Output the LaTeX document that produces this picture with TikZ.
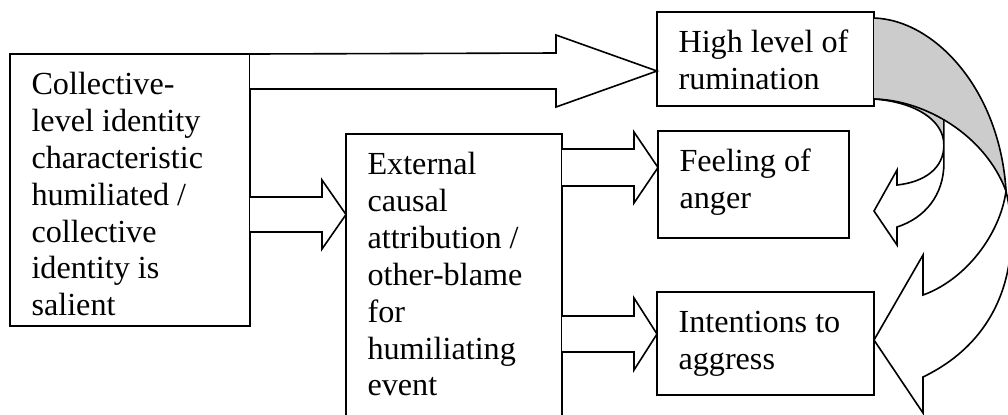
\documentclass[tikz,border=0pt]{standalone}
\usepackage{fontspec}
\setmainfont{Liberation Serif}
\usetikzlibrary{fit}
\definecolor{bandgray}{RGB}{204,204,204}
\tikzset{
  box/.style={draw=black, line width=0.6pt, inner sep=0pt, outer sep=0pt},
  label/.style={anchor=base west, inner sep=0pt, font=\fontsize{12}{13.8}\selectfont},
  blockarrow/.style={draw=black, line width=0.6pt, fill=white, line join=miter},
  curveline/.style={draw=black, line width=0.6pt}
}
\newcommand{\lines}[1]{\parbox[t]{110pt}{\raggedright #1}}
\begin{document}
\begin{tikzpicture}[x=0.373pt, y=-0.373pt]
\useasboundingbox (0,0) rectangle (1008,414);
\clip (0,0) rectangle (1008,414);
% boxes
\node[box, fit={(10,54) (250,326)}] (A) {};
\node[box, fit={(346,134) (562,430)}] (B) {};
\node[box, fit={(657,12) (874,106)}] (C) {};
\node[box, fit={(658,131) (849,238)}] (D) {};
\node[box, fit={(657,292) (874,395)}] (E) {};
% texts
\node[label] (tA) at (31,94) {\lines{Collective-\\level identity\\characteristic\\humiliated /\\collective\\identity is\\salient}};
\node[label] (tB) at (367,174) {\lines{External\\causal\\attribution /\\other-blame\\for\\humiliating\\event}};
\node[label] (tC) at (678,52) {\lines{High level of\\rumination}};
\node[label] (tD) at (679,171) {\lines{Feeling of\\anger}};
\node[label] (tE) at (678,332) {\lines{Intentions to\\aggress}};
% straight block arrows
\draw[blockarrow] (A.north east) -- (556,53) -- (556,35) -- (C.west |- 0,71) -- (556,107) -- (556,89) -- (A.east |- 0,89);
\draw[blockarrow] (A.east |- 0,197) -- (322,197) -- (322,180) -- (B.west |- 0,214.5) -- (322,249) -- (322,232) -- (A.east |- 0,232);
\draw[blockarrow] (B.east |- 0,149) -- (634,149) -- (634,132) -- (D.west |- 0,167.5) -- (634,203) -- (634,186) -- (B.east |- 0,186);
\draw[blockarrow] (B.east |- 0,316) -- (634,316) -- (634,298) -- (E.west |- 0,334) -- (634,370) -- (634,352) -- (B.east |- 0,352);
% big curved arrow: back band (gray)
\coordinate (cTop) at (C.north east |- 0,18);
\coordinate (cBot) at (C.east |- 0,99);
\coordinate (rim) at (1006,191);
\fill[bandgray] (cTop) .. controls (935,20) and (1000,90) .. (rim) .. controls (985,135) and (925,100) .. (cBot) -- cycle;
\draw[curveline] (cTop) .. controls (935,20) and (1000,90) .. (rim);
% small curved arrow: back crescent (gray)
\fill[bandgray] (cBot) .. controls (896.95,99.45) and (921.7,106.8) .. (943.9,119.7) -- (943.9,145) .. controls (943.9,120) and (915,102) .. (cBot) -- cycle;
\draw[curveline] (943.9,119.7) -- (943.9,145) .. controls (943.9,120) and (915,102) .. (cBot);
\draw[curveline] (cBot) .. controls (925,100) and (985,135) .. (rim);
% small curved arrow: front with head
\draw[blockarrow] (943.9,145) .. controls (943.9,168) and (925,182) .. (897,185) -- (897,170) -- (874,211) -- (897,245) -- (897,227) .. controls (925,218) and (943.9,195) .. (943.9,163) -- cycle;
% big curved arrow: front with head
\draw[blockarrow] (rim) .. controls (1000,235) and (965,280) .. (923,295) -- (923,255) -- (E.east |- 0,340) -- (923,413) -- (923,377) .. controls (1010,335) and (1020,250) .. (rim) -- cycle;
\end{tikzpicture}
\end{document}
